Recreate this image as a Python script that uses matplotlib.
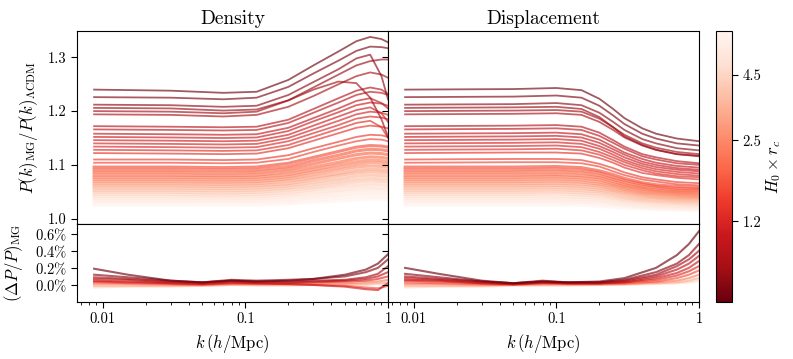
import numpy as np
import matplotlib
matplotlib.use("Agg")
import matplotlib.pyplot as plt
from matplotlib.colors import LogNorm

plt.rcParams["font.family"] = "serif"
plt.rcParams["font.serif"] = ["cmr10", "DejaVu Serif"]
plt.rcParams["mathtext.fontset"] = "cm"
plt.rcParams["axes.unicode_minus"] = False
plt.rcParams["axes.formatter.use_mathtext"] = True

# H0*rc value of each model (one row per model in the tables below)
rc_values = [0.60, 0.65, 0.70, 0.74, 0.78, 0.82,
             0.90, 0.95, 1.00, 1.05, 1.10, 1.15, 1.20, 1.26, 1.32, 1.40, 1.48,
             1.65, 1.80, 1.95, 2.10, 2.30, 2.50, 2.70, 2.95, 3.20, 3.50, 3.80,
             4.10, 4.50, 4.90, 5.30, 5.70, 6.10, 6.50]

# density ratio P_MG/P_LCDM
k_dens = [0.0087, 0.03, 0.07, 0.12, 0.2, 0.3, 0.45, 0.6, 0.75, 0.9, 1.0]
dens_ratio = [
    [1.240, 1.238, 1.234, 1.236, 1.258, 1.285, 1.311, 1.330, 1.338, 1.334, 1.328],
    [1.226, 1.225, 1.222, 1.225, 1.245, 1.270, 1.294, 1.312, 1.320, 1.319, 1.317],
    [1.212, 1.211, 1.208, 1.210, 1.230, 1.254, 1.278, 1.298, 1.305, 1.265, 1.222],
    [1.206, 1.205, 1.201, 1.203, 1.220, 1.244, 1.268, 1.285, 1.293, 1.296, 1.296],
    [1.200, 1.199, 1.196, 1.199, 1.220, 1.240, 1.255, 1.252, 1.225, 1.185, 1.152],
    [1.194, 1.193, 1.190, 1.193, 1.208, 1.228, 1.250, 1.265, 1.272, 1.268, 1.262],
    [1.172, 1.171, 1.170, 1.171, 1.184, 1.204, 1.224, 1.238, 1.244, 1.240, 1.232],
    [1.166, 1.165, 1.164, 1.165, 1.178, 1.197, 1.216, 1.230, 1.236, 1.234, 1.230],
    [1.158, 1.157, 1.156, 1.157, 1.169, 1.187, 1.205, 1.219, 1.224, 1.215, 1.205],
    [1.152, 1.151, 1.150, 1.151, 1.163, 1.181, 1.198, 1.211, 1.216, 1.214, 1.210],
    [1.146, 1.145, 1.144, 1.145, 1.156, 1.173, 1.190, 1.202, 1.207, 1.196, 1.180],
    [1.140, 1.139, 1.138, 1.139, 1.150, 1.166, 1.182, 1.194, 1.199, 1.197, 1.193],
    [1.134, 1.133, 1.132, 1.133, 1.144, 1.159, 1.174, 1.186, 1.190, 1.188, 1.185],
    [1.128, 1.127, 1.126, 1.127, 1.137, 1.152, 1.167, 1.178, 1.182, 1.170, 1.150],
    [1.122, 1.121, 1.120, 1.121, 1.131, 1.145, 1.159, 1.169, 1.173, 1.171, 1.168],
    [1.110, 1.110, 1.109, 1.110, 1.118, 1.131, 1.143, 1.152, 1.156, 1.155, 1.152],
    [1.104, 1.104, 1.103, 1.104, 1.111, 1.124, 1.136, 1.144, 1.148, 1.147, 1.144],
    [1.096, 1.096, 1.095, 1.096, 1.103, 1.114, 1.125, 1.133, 1.136, 1.135, 1.133],
    [1.091, 1.091, 1.090, 1.091, 1.097, 1.108, 1.118, 1.126, 1.129, 1.128, 1.126],
    [1.086, 1.086, 1.085, 1.086, 1.092, 1.102, 1.112, 1.119, 1.122, 1.121, 1.119],
    [1.081, 1.081, 1.080, 1.081, 1.087, 1.096, 1.105, 1.112, 1.115, 1.114, 1.112],
    [1.077, 1.077, 1.076, 1.077, 1.082, 1.091, 1.100, 1.106, 1.109, 1.108, 1.106],
    [1.073, 1.073, 1.072, 1.073, 1.078, 1.087, 1.095, 1.101, 1.104, 1.103, 1.101],
    [1.069, 1.069, 1.068, 1.069, 1.074, 1.082, 1.090, 1.096, 1.098, 1.097, 1.096],
    [1.065, 1.065, 1.064, 1.065, 1.070, 1.077, 1.084, 1.090, 1.092, 1.091, 1.090],
    [1.061, 1.061, 1.060, 1.061, 1.065, 1.073, 1.080, 1.085, 1.087, 1.086, 1.085],
    [1.057, 1.057, 1.056, 1.057, 1.061, 1.068, 1.074, 1.079, 1.081, 1.080, 1.079],
    [1.053, 1.053, 1.052, 1.053, 1.057, 1.063, 1.069, 1.073, 1.075, 1.074, 1.073],
    [1.049, 1.049, 1.048, 1.049, 1.053, 1.058, 1.064, 1.068, 1.070, 1.069, 1.068],
    [1.045, 1.045, 1.044, 1.045, 1.048, 1.054, 1.059, 1.062, 1.064, 1.063, 1.062],
    [1.041, 1.041, 1.041, 1.041, 1.044, 1.049, 1.053, 1.057, 1.058, 1.057, 1.057],
    [1.037, 1.037, 1.037, 1.037, 1.040, 1.044, 1.049, 1.052, 1.053, 1.053, 1.052],
    [1.033, 1.033, 1.033, 1.033, 1.035, 1.039, 1.043, 1.046, 1.047, 1.047, 1.046],
    [1.029, 1.029, 1.029, 1.029, 1.031, 1.034, 1.038, 1.040, 1.041, 1.041, 1.040],
    [1.025, 1.025, 1.025, 1.025, 1.027, 1.030, 1.033, 1.035, 1.036, 1.036, 1.035],
]

# displacement ratio
k_disp = [0.0087, 0.05, 0.1, 0.15, 0.2, 0.25, 0.3, 0.4, 0.5, 0.7, 1.0]
disp_ratio = [
    [1.240, 1.241, 1.243, 1.239, 1.223, 1.204, 1.187, 1.168, 1.158, 1.149, 1.144],
    [1.226, 1.227, 1.229, 1.225, 1.210, 1.192, 1.176, 1.158, 1.149, 1.140, 1.136],
    [1.212, 1.213, 1.215, 1.211, 1.197, 1.180, 1.165, 1.148, 1.140, 1.131, 1.127],
    [1.206, 1.207, 1.208, 1.204, 1.189, 1.170, 1.153, 1.137, 1.128, 1.120, 1.117],
    [1.200, 1.201, 1.202, 1.199, 1.186, 1.170, 1.156, 1.140, 1.132, 1.124, 1.120],
    [1.194, 1.195, 1.196, 1.193, 1.180, 1.165, 1.151, 1.136, 1.128, 1.120, 1.116],
    [1.172, 1.173, 1.174, 1.171, 1.160, 1.146, 1.134, 1.120, 1.114, 1.107, 1.103],
    [1.166, 1.167, 1.168, 1.165, 1.154, 1.141, 1.130, 1.116, 1.110, 1.103, 1.100],
    [1.158, 1.159, 1.160, 1.157, 1.147, 1.134, 1.123, 1.111, 1.104, 1.098, 1.095],
    [1.152, 1.153, 1.154, 1.151, 1.141, 1.129, 1.119, 1.106, 1.100, 1.094, 1.091],
    [1.146, 1.147, 1.148, 1.145, 1.135, 1.124, 1.114, 1.102, 1.096, 1.091, 1.088],
    [1.140, 1.141, 1.142, 1.139, 1.130, 1.119, 1.109, 1.098, 1.092, 1.087, 1.084],
    [1.134, 1.135, 1.136, 1.133, 1.124, 1.114, 1.105, 1.094, 1.088, 1.083, 1.080],
    [1.128, 1.129, 1.130, 1.127, 1.119, 1.109, 1.100, 1.090, 1.084, 1.079, 1.077],
    [1.122, 1.123, 1.123, 1.121, 1.113, 1.104, 1.095, 1.085, 1.081, 1.076, 1.073],
    [1.110, 1.111, 1.111, 1.109, 1.102, 1.094, 1.086, 1.077, 1.073, 1.068, 1.066],
    [1.104, 1.105, 1.105, 1.103, 1.097, 1.088, 1.081, 1.073, 1.069, 1.064, 1.062],
    [1.096, 1.096, 1.097, 1.095, 1.089, 1.082, 1.075, 1.067, 1.063, 1.060, 1.058],
    [1.091, 1.091, 1.092, 1.090, 1.085, 1.077, 1.071, 1.064, 1.060, 1.056, 1.055],
    [1.086, 1.086, 1.087, 1.085, 1.080, 1.073, 1.067, 1.060, 1.057, 1.053, 1.052],
    [1.081, 1.081, 1.082, 1.080, 1.076, 1.069, 1.063, 1.057, 1.053, 1.050, 1.049],
    [1.077, 1.077, 1.078, 1.076, 1.072, 1.065, 1.060, 1.054, 1.051, 1.048, 1.046],
    [1.073, 1.073, 1.074, 1.072, 1.068, 1.062, 1.057, 1.051, 1.048, 1.045, 1.044],
    [1.069, 1.069, 1.070, 1.068, 1.064, 1.059, 1.054, 1.048, 1.046, 1.043, 1.041],
    [1.065, 1.065, 1.066, 1.064, 1.061, 1.055, 1.051, 1.046, 1.043, 1.040, 1.039],
    [1.061, 1.061, 1.062, 1.060, 1.057, 1.052, 1.048, 1.043, 1.040, 1.038, 1.037],
    [1.057, 1.057, 1.058, 1.056, 1.053, 1.049, 1.045, 1.040, 1.038, 1.035, 1.034],
    [1.053, 1.053, 1.054, 1.052, 1.050, 1.045, 1.041, 1.037, 1.035, 1.033, 1.032],
    [1.049, 1.049, 1.050, 1.048, 1.046, 1.042, 1.038, 1.034, 1.032, 1.030, 1.029],
    [1.045, 1.045, 1.046, 1.044, 1.042, 1.038, 1.035, 1.032, 1.030, 1.028, 1.027],
    [1.041, 1.041, 1.041, 1.040, 1.038, 1.035, 1.032, 1.029, 1.027, 1.025, 1.025],
    [1.037, 1.037, 1.037, 1.036, 1.034, 1.031, 1.029, 1.026, 1.024, 1.023, 1.022],
    [1.033, 1.033, 1.033, 1.032, 1.031, 1.028, 1.026, 1.023, 1.022, 1.020, 1.020],
    [1.029, 1.029, 1.029, 1.029, 1.027, 1.025, 1.023, 1.020, 1.019, 1.018, 1.017],
    [1.025, 1.025, 1.025, 1.025, 1.023, 1.021, 1.020, 1.018, 1.017, 1.016, 1.015],
]

# relative difference (in %) for a subset of models
rc_sub = [0.60, 0.70, 0.82, 0.95, 1.10, 1.26, 1.65, 2.30, 3.20, 4.50]
k_diff = [0.0087, 0.015, 0.03, 0.05, 0.08, 0.12, 0.2, 0.3, 0.5, 0.7, 0.85, 1.0]
dens_diff = [
    [0.19, 0.12, 0.05, 0.03, 0.05, 0.04, 0.05, 0.07, 0.12, 0.18, 0.25, 0.36],
    [0.12, 0.09, 0.05, 0.03, 0.06, 0.05, 0.06, 0.07, 0.10, 0.15, 0.20, 0.30],
    [0.09, 0.07, 0.04, 0.03, 0.05, 0.04, 0.04, 0.05, 0.06, 0.09, 0.13, 0.22],
    [0.07, 0.06, 0.03, 0.02, 0.04, 0.03, 0.03, 0.04, 0.05, 0.07, 0.10, 0.15],
    [0.05, 0.04, 0.02, 0.01, 0.03, 0.02, 0.01, 0.00, -0.02, -0.05, -0.06, 0.02],
    [0.04, 0.03, 0.02, 0.01, 0.02, 0.02, 0.02, 0.03, 0.04, 0.05, 0.07, 0.10],
    [0.03, 0.02, 0.01, 0.00, 0.02, 0.01, 0.01, 0.00, -0.01, -0.03, -0.04, -0.01],
    [0.01, 0.01, 0.00, 0.00, 0.01, 0.01, 0.01, 0.02, 0.02, 0.03, 0.04, 0.06],
    [-0.01, -0.01, -0.01, -0.01, 0.00, 0.00, 0.00, 0.01, 0.01, 0.01, 0.02, 0.03],
    [-0.03, -0.02, -0.02, -0.01, 0.00, -0.01, -0.01, 0.00, 0.00, 0.00, 0.01, 0.01],
]
disp_diff = [
    [0.20, 0.13, 0.05, 0.02, 0.04, 0.03, 0.04, 0.08, 0.20, 0.35, 0.48, 0.63],
    [0.13, 0.09, 0.04, 0.02, 0.05, 0.03, 0.03, 0.06, 0.15, 0.25, 0.35, 0.48],
    [0.10, 0.07, 0.04, 0.02, 0.04, 0.03, 0.03, 0.05, 0.12, 0.22, 0.30, 0.40],
    [0.08, 0.06, 0.03, 0.01, 0.03, 0.02, 0.02, 0.04, 0.10, 0.18, 0.25, 0.34],
    [0.06, 0.05, 0.02, 0.01, 0.03, 0.02, 0.02, 0.03, 0.08, 0.14, 0.20, 0.28],
    [0.05, 0.04, 0.02, 0.01, 0.02, 0.02, 0.02, 0.03, 0.06, 0.11, 0.16, 0.22],
    [0.03, 0.02, 0.01, 0.00, 0.02, 0.01, 0.01, 0.02, 0.04, 0.08, 0.12, 0.17],
    [0.01, 0.01, 0.00, 0.00, 0.01, 0.01, 0.01, 0.01, 0.03, 0.05, 0.08, 0.12],
    [-0.01, -0.01, -0.01, 0.00, 0.00, 0.00, 0.00, 0.01, 0.02, 0.03, 0.05, 0.08],
    [-0.03, -0.02, -0.02, -0.01, -0.01, -0.01, 0.00, 0.00, 0.01, 0.02, 0.03, 0.05],
]

top_ticks = [1.0, 1.1, 1.2, 1.3]
top_labels = ["1.0", "1.1", "1.2", "1.3"]
diff_ticks = [0.0, 0.2, 0.4, 0.6]
diff_labels = [r"$0.0\%$", r"$0.2\%$", r"$0.4\%$", r"$0.6\%$"]
k_ticks = [0.01, 0.1, 1]
k_labels = ["0.01", "0.1", "1"]
cb_ticks = [1.2, 2.5, 4.5]
cb_labels = ["1.2", "2.5", "4.5"]

cmap = plt.cm.Reds_r
norm = LogNorm(vmin=0.58, vmax=6.7)

fig = plt.figure(figsize=(7.93, 3.59), dpi=100)
W, H = 793, 359


def px_axes(x0, y0, x1, y1):
    return fig.add_axes([x0 / W, 1 - y1 / H, (x1 - x0) / W, (y1 - y0) / H])


ax_dt = px_axes(77, 31, 388, 223.5)
ax_pt = px_axes(388, 31, 699, 223.5)
ax_db = px_axes(77, 223.5, 388, 302)
ax_pb = px_axes(388, 223.5, 699, 302)
cax = px_axes(716, 31, 732, 302)

alpha = 0.65
for rc, d, p in reversed(list(zip(rc_values, dens_ratio, disp_ratio))):
    c = cmap(norm(rc))
    lw = 1.3 if rc < 1.6 else 2.2  # the weak-MG band is drawn densely
    ax_dt.plot(k_dens, d, color=c, lw=lw, alpha=alpha)
    ax_pt.plot(k_disp, p, color=c, lw=lw, alpha=alpha)
for rc, d, p in reversed(list(zip(rc_sub, dens_diff, disp_diff))):
    c = cmap(norm(rc))
    ax_db.plot(k_diff, d, color=c, lw=1.5, alpha=alpha)
    ax_pb.plot(k_diff, p, color=c, lw=1.5, alpha=alpha)

for ax in (ax_dt, ax_pt, ax_db, ax_pb):
    ax.set_xscale("log")
    ax.set_xlim(0.0066, 1.0)
    ax.tick_params(which="both", direction="out", labelsize=10.5)
    ax.tick_params(which="major", length=4)
    ax.tick_params(which="minor", length=2)

for ax in (ax_dt, ax_pt):
    ax.set_ylim(0.991, 1.349)
    ax.set_yticks(top_ticks)
    ax.tick_params(axis="x", which="both", bottom=False, labelbottom=False)
for ax in (ax_db, ax_pb):
    ax.set_ylim(-0.2, 0.72)
    ax.set_yticks(diff_ticks)
    ax.set_xticks(k_ticks, k_labels)
    ax.set_xlabel(r"$k\,(h/\mathrm{Mpc})$", fontsize=12)

ax_dt.set_yticklabels(top_labels)
ax_db.set_yticklabels(diff_labels)
ax_dt.tick_params(axis="y", right=True)
ax_db.tick_params(axis="y", right=True)
ax_pt.tick_params(axis="y", labelleft=False)
ax_pb.tick_params(axis="y", labelleft=False)

ax_dt.set_title("Density", fontsize=14, pad=5)
ax_pt.set_title("Displacement", fontsize=14, pad=5)
ax_dt.set_ylabel(r"$P(k)_{\rm MG}/P(k)_{\Lambda{\rm CDM}}$", fontsize=12)
ax_db.set_ylabel(r"$(\Delta P/P)_{\rm MG}$", fontsize=12)
ax_dt.yaxis.set_label_coords(-0.118, 0.5)
ax_db.yaxis.set_label_coords(-0.167, 0.5)

sm = plt.cm.ScalarMappable(norm=norm, cmap=cmap)
cb = fig.colorbar(sm, cax=cax)
cb.minorticks_off()
cb.set_ticks(cb_ticks)
cb.set_ticklabels(cb_labels)
cb.ax.tick_params(labelsize=10.5, length=4)
cb.set_label(r"$H_0\times r_c$", fontsize=12, labelpad=2)

fig.savefig("out.png", dpi=100)
